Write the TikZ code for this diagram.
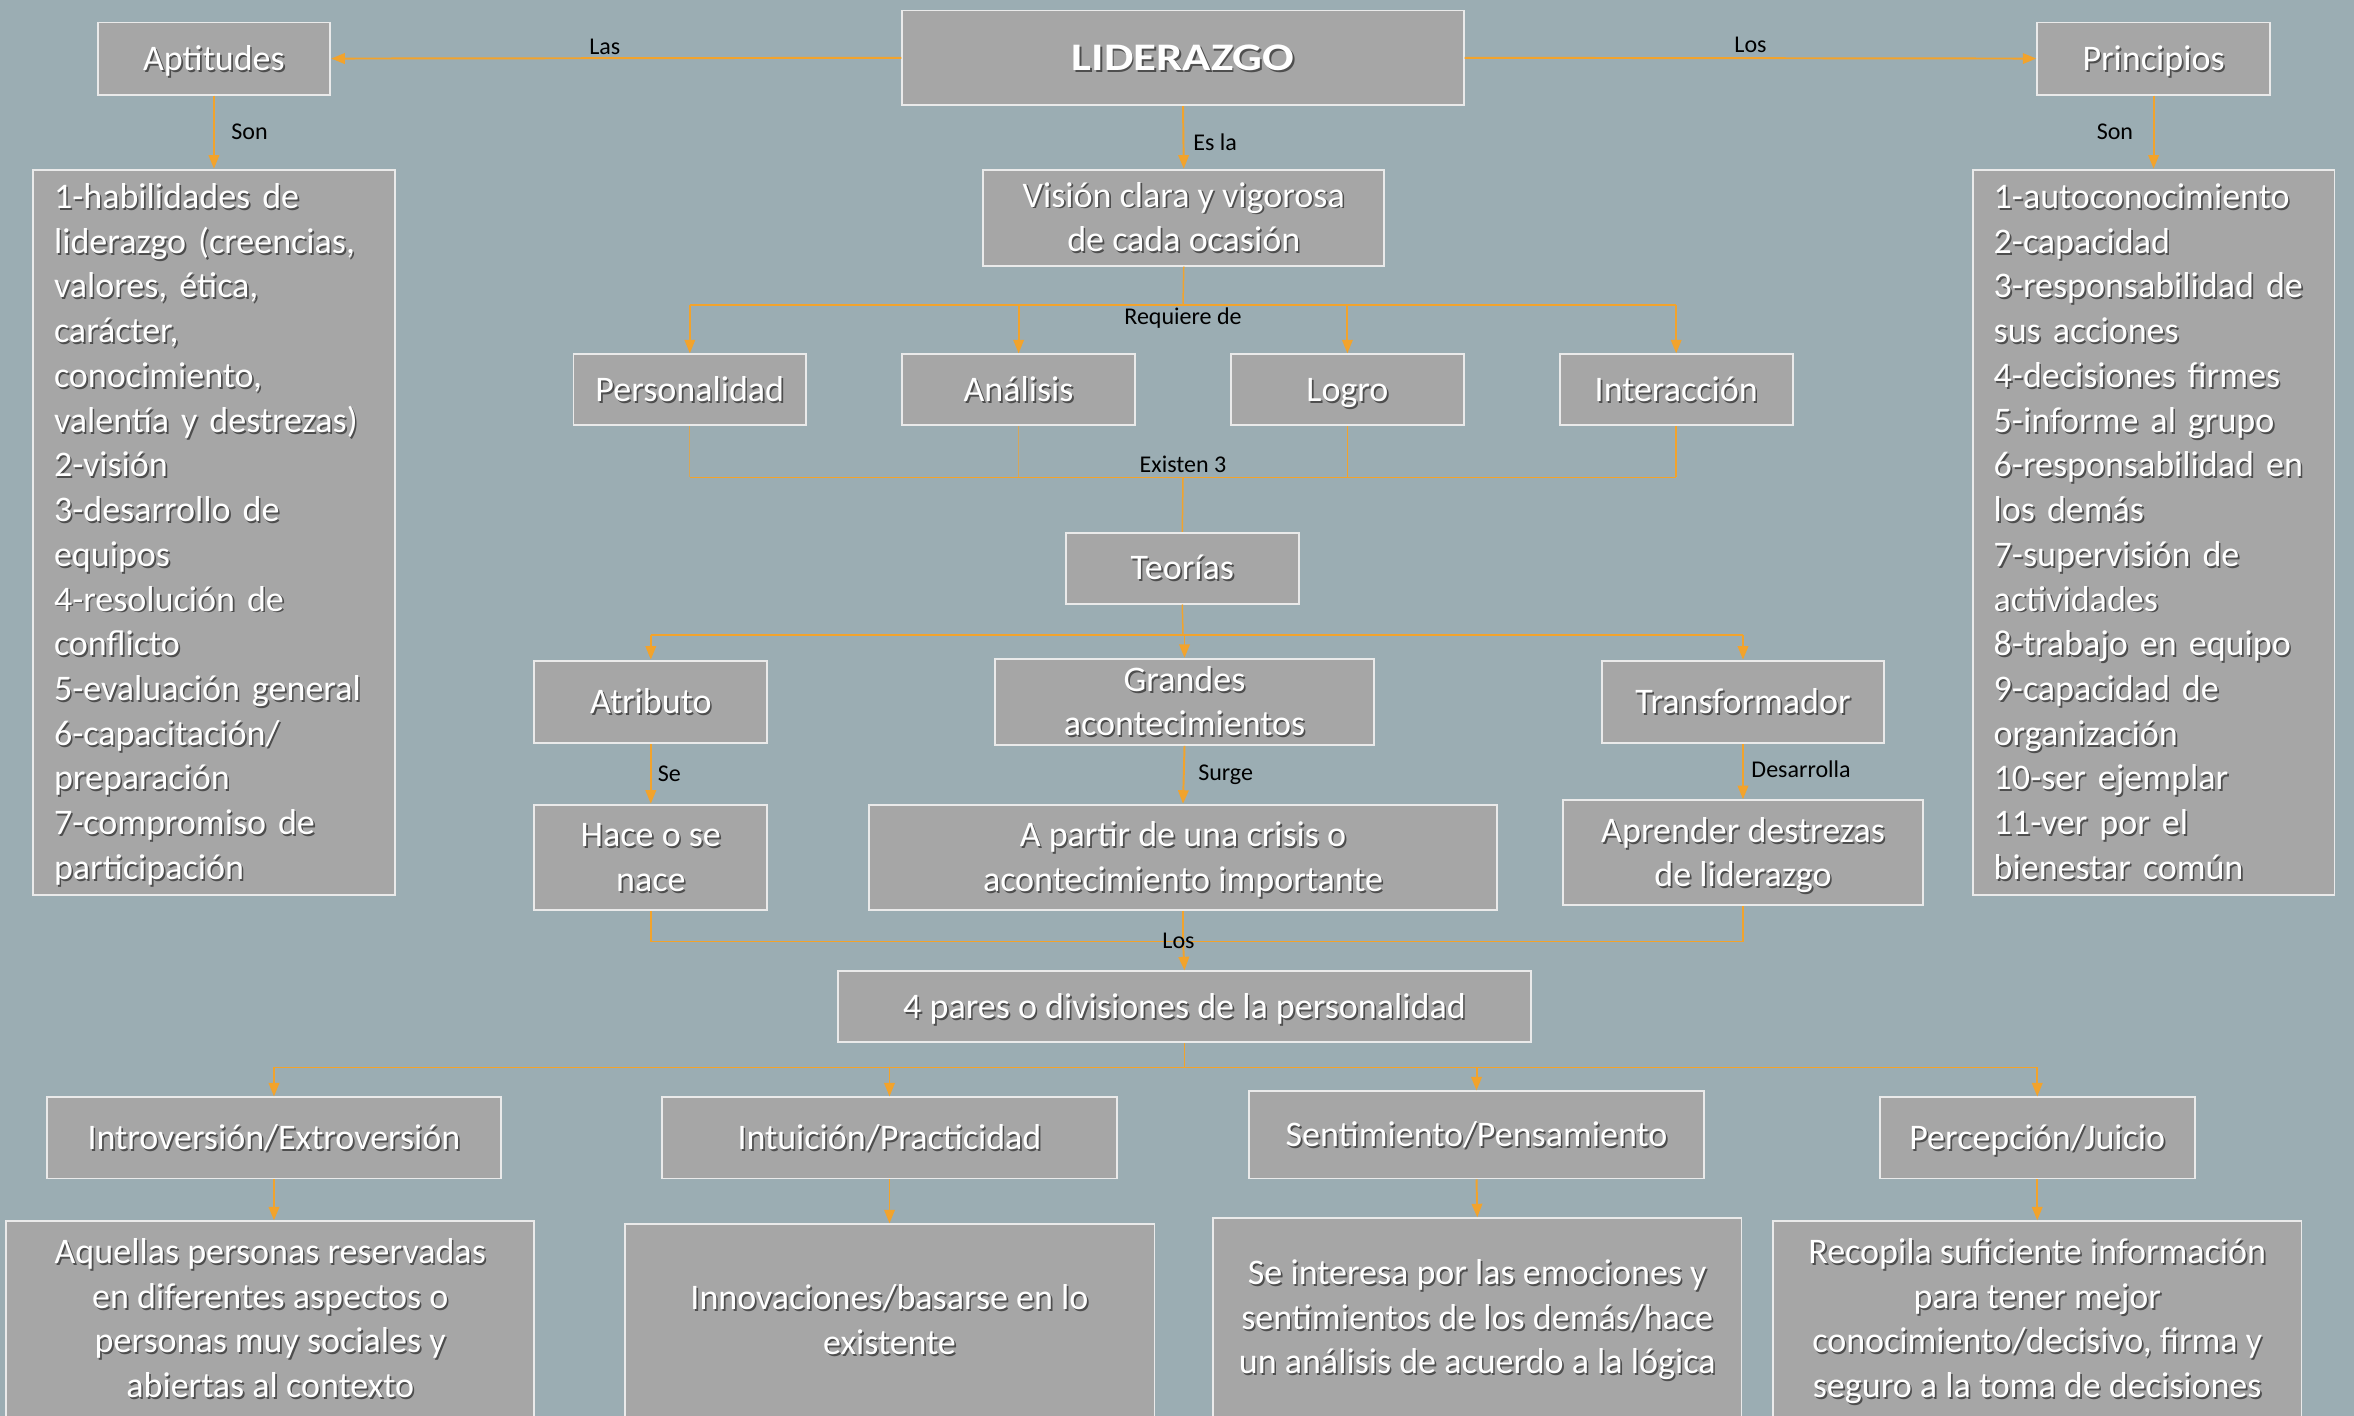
\documentclass[tikz,border=0pt]{standalone}
\usepackage{graphicx}
\usepackage{fontspec}
\setmainfont{Carlito}
\usetikzlibrary{arrows.meta}

\definecolor{bgc}{RGB}{155,173,179}
\definecolor{boxfill}{RGB}{166,166,166}
\definecolor{boxline}{RGB}{234,234,234}
\definecolor{linkc}{RGB}{242,163,44}
\definecolor{shadowc}{RGB}{78,78,78}

% white text with a small dark drop shadow; the strut keeps every line the same height
\newcommand\sht[1]{\mbox{\vrule height 0.9em depth 0.25em width 0pt%
  \rlap{\kern1.1pt\raisebox{-1.3pt}{\textcolor{shadowc}{#1}}}#1}}

\tikzset{
  box/.style={draw=boxline, fill=boxfill, line width=1.3pt, inner sep=0pt,
    text=white, align=center, font=\fontsize{24}{29.8}\selectfont},
  listbox/.style={box, align=left, text width=213pt},
  conn/.style={draw=linkc, line width=1.3pt},
  faint/.style={draw=linkc!65!bgc, line width=0.8pt},
  arr/.style={conn, -{Triangle[length=9pt,width=7pt]}},
  lbl/.style={font=\fontsize{16}{18}\selectfont, text=black, inner sep=2pt},
}

\begin{document}
\begin{tikzpicture}[x=1pt,y=-1pt]
\fill[bgc] (0,0) rectangle (1568,943);
\useasboundingbox (0,0) rectangle (1568,943);

% top level
\node[box, minimum width=374pt, minimum height=63pt,
      font=\fontsize{26}{30}\selectfont\bfseries] (lid) at (788,38.5)
      {\sht{\scalebox{1.2}[1]{LIDERAZGO}}};
\node[box, minimum width=155pt, minimum height=48pt] (apt) at (142.5,39) {\sht{Aptitudes}};
\node[box, minimum width=155pt, minimum height=48pt] (prin) at (1434.5,39) {\sht{Principios}};

% lists
\node[listbox, minimum width=241pt, minimum height=483pt] (aptlist) at (142.5,354.5) {%
\sht{1-habilidades de}\\ \sht{liderazgo (creencias,}\\ \sht{valores, ética,}\\ \sht{carácter,}\\
\sht{conocimiento,}\\ \sht{valentía y destrezas)}\\ \sht{2-visión}\\ \sht{3-desarrollo de}\\
\sht{equipos}\\ \sht{4-resolución de}\\ \sht{conflicto}\\ \sht{5-evaluación general}\\
\sht{6-capacitación/}\\ \sht{preparación}\\ \sht{7-compromiso de}\\ \sht{participación}};
\node[listbox, minimum width=241pt, minimum height=483pt] (prinlist) at (1434.5,354.5) {%
\sht{1-autoconocimiento}\\ \sht{2-capacidad}\\ \sht{3-responsabilidad de}\\ \sht{sus acciones}\\
\sht{4-decisiones firmes}\\ \sht{5-informe al grupo}\\ \sht{6-responsabilidad en}\\ \sht{los demás}\\
\sht{7-supervisión de}\\ \sht{actividades}\\ \sht{8-trabajo en equipo}\\ \sht{9-capacidad de}\\
\sht{organización}\\ \sht{10-ser ejemplar}\\ \sht{11-ver por el}\\ \sht{bienestar común}};

% vision and its requirements
\node[box, minimum width=267pt, minimum height=64pt] (vis) at (788.5,145)
  {\sht{Visión clara y vigorosa}\\ \sht{de cada ocasión}};
\node[box, minimum width=155pt, minimum height=47pt] (per) at (459.5,259.5) {\sht{Personalidad}};
\node[box, minimum width=155pt, minimum height=47pt] (ana) at (678.5,259.5) {\sht{Análisis}};
\node[box, minimum width=155pt, minimum height=47pt] (log) at (897.5,259.5) {\sht{Logro}};
\node[box, minimum width=155pt, minimum height=47pt] (int) at (1116.5,259.5) {\sht{Interacción}};

% theories
\node[box, minimum width=155pt, minimum height=47pt] (teo) at (787.5,378.5) {\sht{Teorías}};
\node[box, minimum width=155pt, minimum height=55pt] (atr) at (433.5,467.5) {\sht{Atributo}};
\node[box, minimum width=252pt, minimum height=55pt] (gra) at (789,467.5)
  {\sht{Grandes}\\ \sht{acontecimientos}};
\node[box, minimum width=188pt, minimum height=55pt] (tra) at (1161,467.5) {\sht{Transformador}};
\node[box, minimum width=155pt, minimum height=70pt] (hac) at (433.5,571) {\sht{Hace o se}\\ \sht{nace}};
\node[box, minimum width=418pt, minimum height=70pt] (apa) at (788,571)
  {\sht{A partir de una crisis o}\\ \sht{acontecimiento importante}};
\node[box, minimum width=240pt, minimum height=70pt] (apr) at (1161,568)
  {\sht{Aprender destrezas}\\ \sht{de liderazgo}};

% personality pairs
\node[box, minimum width=462pt, minimum height=47pt] (cua) at (789,670.5)
  {\sht{4 pares o divisiones de la personalidad}};
\node[box, minimum width=303pt, minimum height=54pt] (p1) at (182.5,758) {\sht{Introversión/Extroversión}};
\node[box, minimum width=303pt, minimum height=54pt] (p2) at (592.5,758) {\sht{Intuición/Practicidad}};
\node[box, minimum width=303pt, minimum height=58pt] (p3) at (983.5,756) {\sht{Sentimiento/Pensamiento}};
\node[box, minimum width=210pt, minimum height=54pt] (p4) at (1357,758) {\sht{Percepción/Juicio}};

\node[box, minimum width=352pt, minimum height=130pt] (d1) at (180,878.5)
  {\sht{Aquellas personas reservadas}\\ \sht{en diferentes aspectos o}\\
   \sht{personas muy sociales y}\\ \sht{abiertas al contexto}};
\node[box, minimum width=353pt, minimum height=128pt] (d2) at (592.5,879.5)
  {\sht{Innovaciones/basarse en lo}\\ \sht{existente}};
\node[box, minimum width=352pt, minimum height=132pt] (d3) at (984,877.5)
  {\sht{Se interesa por las emociones y}\\ \sht{sentimientos de los demás/hace}\\
   \sht{un análisis de acuerdo a la lógica}};
\node[box, minimum width=352pt, minimum height=130pt] (d4) at (1357,878.5)
  {\sht{Recopila suficiente información}\\ \sht{para tener mejor}\\
   \sht{conocimiento/decisivo, firma y}\\ \sht{seguro a la toma de decisiones}};

% ---- connectors ----
\draw[arr] (lid.west) -- (apt.east) node[lbl, pos=0.52, above=0pt] {Las};
\draw[arr] (lid.east) -- (prin.west) node[lbl, pos=0.5, above=1pt] {Los};
\draw[arr] (apt.south) -- (aptlist.north) node[lbl, midway, right=9pt] {Son};
\draw[arr] (prin.south) -- (prinlist.north) node[lbl, midway, left=11pt] {Son};
\draw[arr] (lid.south) -- (vis.north) node[lbl, pos=0.58, right=4pt] {Es la};

% requirements bus
\coordinate (b1) at (788,203);
\draw[conn, line width=1pt] (vis.south) -- (b1);
\draw[conn, line width=1pt] (per.north |- b1) -- (int.north |- b1);
\node[lbl, below=0pt] (rq) at (b1) {Requiere de};
\foreach \n in {per,ana,log,int} \draw[arr] (\n.north |- b1) -- (\n.north);

% theories bus
\coordinate (b2) at (788,318);
\draw[faint] (per.south) -- (per.south |- b2);
\draw[faint] (ana.south) -- (ana.south |- b2);
\draw[conn, line width=1pt] (log.south) -- (log.south |- b2);
\draw[conn, line width=1pt] (int.south) -- (int.south |- b2);
\draw[conn, line width=1pt] (per.south |- b2) -- (int.south |- b2);
\draw[conn, line width=1pt] (b2) -- (teo.north);
\node[lbl, above=1pt] (ex) at (b2) {Existen 3};

\coordinate (b3) at (788,423);
\draw[conn, line width=1pt] (teo.south) -- (b3);
\draw[conn, line width=1pt] (atr.north |- b3) -- (tra.north |- b3);
\foreach \n in {atr,gra,tra} \draw[arr] (\n.north |- b3) -- (\n.north);

\draw[arr] (atr.south) -- (hac.north) node[lbl, midway, right=2pt] {Se};
\draw[arr] (gra.south) -- (apa.north) node[lbl, midway, right=7pt] {Surge};
\draw[arr] (tra.south) -- (apr.north) node[lbl, pos=0.45, right=3pt] {Desarrolla};

% pairs bus
\coordinate (b4) at (788,627);
\draw[conn, line width=1pt] (hac.south) -- (hac.south |- b4) -- (apr.south |- b4) -- (apr.south);
\draw[conn, line width=1pt] (apa.south) -- (b4);
\draw[arr] (b4) -- (cua.north);
\node[lbl, inner sep=0pt] (lo) at (785,627) {Los};

\coordinate (b5) at (789,711);
\draw[conn, line width=1pt] (cua.south) -- (b5);
\draw[conn, line width=1pt] (p1.north |- b5) -- (p4.north |- b5);
\foreach \n in {p1,p2,p3,p4} \draw[arr] (\n.north |- b5) -- (\n.north);
\draw[arr] (p1.south) -- (d1.north -| p1.south);
\draw[arr] (p2.south) -- (d2.north);
\draw[arr] (p3.south) -- (d3.north);
\draw[arr] (p4.south) -- (d4.north);
\end{tikzpicture}
\end{document}
